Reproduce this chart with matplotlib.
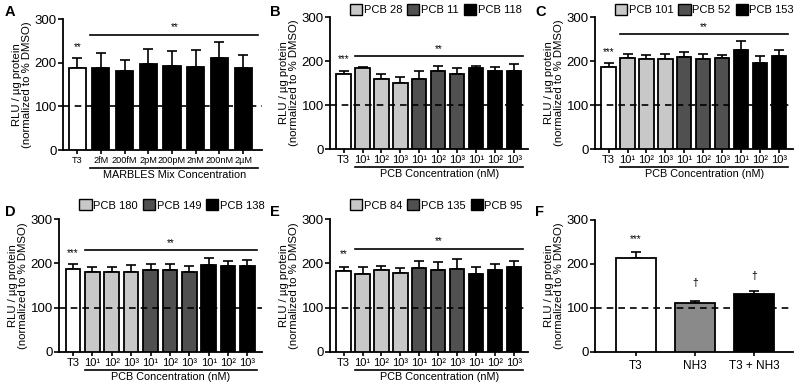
import matplotlib
matplotlib.use("Agg")
import matplotlib.pyplot as plt
from matplotlib.patches import Patch
from matplotlib.transforms import blended_transform_factory

plt.rcParams['font.family'] = ['Liberation Sans', 'DejaVu Sans']

# ---- data ----
a_labels = ['T3', '2fM', '200fM', '2pM', '200pM', '2nM', '200nM', '2µM']
a_means = [187, 188, 182, 197, 192, 190, 211, 188]
a_errs = [23, 33, 23, 34, 35, 40, 36, 30]

pcb_ticks = ['T3', '10¹', '10²', '10³', '10¹', '10²', '10³', '10¹', '10²', '10³']

b_names = ['PCB 28', 'PCB 11', 'PCB 118']
b_means = [170, 183, 160, 151, 160, 177, 170, 184, 177, 178]
b_errs = [8, 4, 11, 13, 18, 12, 14, 5, 10, 16]

c_names = ['PCB 101', 'PCB 52', 'PCB 153']
c_means = [186, 206, 204, 204, 208, 204, 207, 225, 196, 212]
c_errs = [9, 11, 10, 11, 12, 11, 7, 21, 15, 13]

d_names = ['PCB 180', 'PCB 149', 'PCB 138']
d_means = [188, 181, 181, 180, 184, 185, 181, 196, 194, 193]
d_errs = [10, 11, 11, 16, 14, 13, 14, 15, 11, 15]

e_names = ['PCB 84', 'PCB 135', 'PCB 95']
e_means = [183, 176, 186, 178, 189, 186, 188, 176, 184, 192]
e_errs = [9, 16, 7, 11, 16, 18, 21, 15, 14, 14]

f_labels = ['T3', 'NH3', 'T3 + NH3']
f_means = [213, 111, 131]
f_errs = [15, 6, 7]

light, mid, dark = '#c8c8c8', '#505050', '#000000'
pcb_colors = ['white'] + [light] * 3 + [mid] * 3 + [dark] * 3

fig = plt.figure(figsize=(8, 3.86), dpi=100)


def px_axes(l, r, t, b):
    return fig.add_axes([l / 800, 1 - b / 386, (r - l) / 800, (b - t) / 386])


def style(ax, xlim):
    ax.set_ylim(0, 300)
    ax.set_yticks([0, 100, 200, 300])
    ax.set_xlim(*xlim)
    for s in ['top', 'right']:
        ax.spines[s].set_visible(False)
    for s in ['left', 'bottom']:
        ax.spines[s].set_linewidth(1.3)
    ax.tick_params(axis='y', labelsize=9.5, length=3.5, width=1.2, pad=1)
    ax.tick_params(axis='x', length=3, width=1.2, pad=1)
    ax.axhline(100, color='black', lw=1.2, ls=(0, (4, 3)), zorder=5)
    ax.set_ylabel('RLU / µg protein\n(normalized to % DMSO)', fontsize=8.2,
                  linespacing=1.0, labelpad=2)


def bars(ax, means, errs, colors, width):
    x = list(range(len(means)))
    ax.bar(x, means, width=width, color=colors, edgecolor='black', lw=1.3,
           zorder=3)
    ax.errorbar(x, means, yerr=[[0] * len(errs), errs], fmt='none',
                ecolor='black', elinewidth=1.2, capsize=3.5, capthick=1.2,
                zorder=2)
    return x


def brackets(ax, x0, x1, sig_y, star_y, t3_star, t3_y, label, fs):
    ax.plot([x0, x1], [sig_y, sig_y], color='black', lw=1.2, clip_on=False)
    ax.text((x0 + x1) / 2, star_y, '**', ha='center', va='center', fontsize=7)
    ax.text(0, t3_y, t3_star, ha='center', va='center', fontsize=7)
    tr = blended_transform_factory(ax.transData, ax.transAxes)
    ax.plot([x0, x1], [-0.135, -0.135], color='black', lw=1.2,
            transform=tr, clip_on=False)
    ax.text((x0 + x1) / 2, -0.19, label, ha='center', va='center',
            fontsize=fs, transform=tr)


def legend(ax, names, y):
    handles = [Patch(facecolor=c, edgecolor='black', lw=1.0)
               for c in [light, mid, dark]]
    ax.legend(handles, names, loc='center left', bbox_to_anchor=(0.1, y),
              ncol=3, frameon=False, fontsize=8, handlelength=1.1,
              handleheight=1.1, handletextpad=0.15, columnspacing=0.45,
              borderaxespad=0, borderpad=0)


# A
axA = px_axes(63, 262, 19, 150)
style(axA, (-0.6, 7.8))
x = bars(axA, a_means, a_errs, ['white'] + ['black'] * 7, 0.72)
axA.set_xticks(x)
axA.set_xticklabels(a_labels, fontsize=6.6)
brackets(axA, 0.55, 7.65, 263, 282, '**', 236, 'MARBLES Mix Concentration', 7.8)

# B, C, D, E
pcb_panels = [
    ((330, 528, 17, 149), b_means, b_errs, b_names, 211, 228, '***', 204, 1.055),
    ((595, 793, 17, 149), c_means, c_errs, c_names, 261, 278, '***', 220, 1.055),
    ((59, 262, 219, 352), d_means, d_errs, d_names, 229, 246, '***', 223, 1.105),
    ((330, 528, 219, 352), e_means, e_errs, e_names, 233, 250, '**', 221, 1.105),
]
pcb_axes = []
for box, means, errs, names, sy, sty, t3s, t3y, ly in pcb_panels:
    ax = px_axes(*box)
    style(ax, (-0.72, 9.75))
    x = bars(ax, means, errs, pcb_colors, 0.76)
    ax.set_xticks(x)
    ax.set_xticklabels(pcb_ticks, fontsize=8)
    brackets(ax, 0.6, 9.5, sy, sty, t3s, t3y, 'PCB Concentration (nM)', 7.8)
    legend(ax, names, ly)
    pcb_axes.append(ax)

# F
axF = px_axes(595, 793, 220, 352)
style(axF, (-0.69, 2.66))
x = bars(axF, f_means, f_errs, ['white', '#8a8a8a', 'black'], 0.68)
axF.set_xticks(x)
axF.set_xticklabels(f_labels, fontsize=8.5)
axF.tick_params(axis='x', pad=3)
axF.text(0, 257, '***', ha='center', va='center', fontsize=7)
axF.text(1, 156, '†', ha='center', va='center', fontsize=7.5)
axF.text(2, 173, '†', ha='center', va='center', fontsize=7.5)

# panel letters
for letter, (px, py) in zip('ABCDEF', [(5, 12), (270, 12), (535, 12),
                                       (5, 212), (270, 212), (535, 212)]):
    fig.text(px / 800, 1 - py / 386, letter, fontsize=10.5, fontweight='bold',
             ha='left', va='center')

fig.savefig('out.png', dpi=100)
